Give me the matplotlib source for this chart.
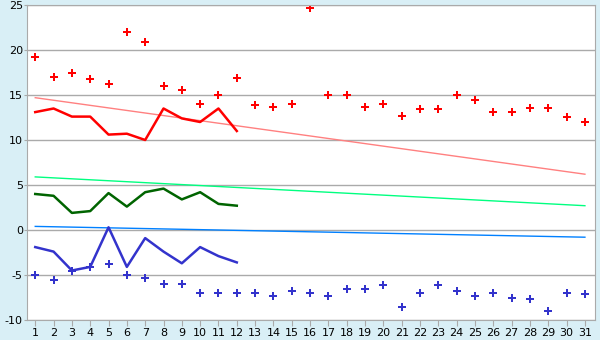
import matplotlib
matplotlib.use('Agg')
from matplotlib import pyplot as plt

plt.rcParams['axes.unicode_minus'] = False

days = list(range(1, 32))
days_line = list(range(1, 13))

red_points = [19.2, 17.0, 17.4, 16.8, 16.2, 22.0, 20.9, 16.0, 15.6, 14.0,
              15.0, 16.9, 13.9, 13.7, 14.0, 24.7, 15.0, 15.0, 13.7, 14.0,
              12.7, 13.5, 13.5, 15.0, 14.4, 13.1, 13.1, 13.6, 13.6, 12.6, 12.0]
blue_points = [-5.0, -5.6, -4.6, -4.1, -3.8, -5.0, -5.3, -6.0, -6.0, -7.0,
               -7.0, -7.0, -7.0, -7.3, -6.8, -7.0, -7.3, -6.6, -6.6, -6.1,
               -8.5, -7.0, -6.1, -6.8, -7.3, -7.0, -7.6, -7.7, -9.0, -7.0, -7.1]

red_line = [13.1, 13.5, 12.6, 12.6, 10.6, 10.7, 10.0, 13.5, 12.4, 12.0, 13.5, 11.0]
green_line = [4.0, 3.8, 1.9, 2.1, 4.1, 2.6, 4.2, 4.6, 3.4, 4.2, 2.9, 2.7]
blue_line = [-1.9, -2.4, -4.5, -4.1, 0.3, -4.1, -0.9, -2.4, -3.7, -1.9, -2.9, -3.6]

# trend lines (start / end values at day 1 and day 31)
red_trend = [14.7, 6.2]
green_trend = [5.9, 2.7]
blue_trend = [0.4, -0.8]

fig = plt.figure(figsize=(6, 3.4), dpi=100, facecolor='#d9eff6')
ax = fig.add_axes([27/600, 20/340, 568/600, 315/340])
ax.set_facecolor('white')

ax.plot([1, 31], red_trend, color='#ff8080', lw=1)
ax.plot([1, 31], green_trend, color='#00ff80', lw=1)
ax.plot([1, 31], blue_trend, color='#0080ff', lw=1)

ax.plot(days_line, red_line, color='red', lw=1.8)
ax.plot(days_line, green_line, color='#006400', lw=1.8)
ax.plot(days_line, blue_line, color='#3333cc', lw=1.8)

ax.plot(days, red_points, 'P', color='red', ms=6, mew=0, ls='none')
ax.plot(days, blue_points, 'P', color='#3333cc', ms=6, mew=0, ls='none')

ax.set_xlim(0.55, 31.55)
ax.set_ylim(-10, 25)
ax.set_xticks(days)
ax.set_yticks(range(-10, 26, 5))
ax.yaxis.grid(True, color='#aaaaaa', lw=1)
ax.set_axisbelow(True)
for s in ax.spines.values():
    s.set_color('#aaaaaa')
ax.tick_params(colors='#aaaaaa', labelcolor='black', labelsize=8, length=4)
ax.tick_params(axis='y', length=2, pad=1)
ax.tick_params(axis='x', pad=2)

plt.savefig('out.png', facecolor=fig.get_facecolor())
